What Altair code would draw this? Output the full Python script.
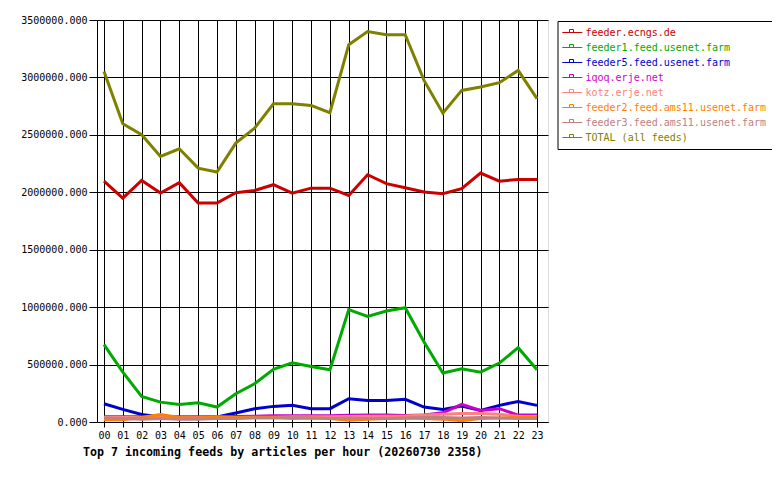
import altair as alt
import pandas as pd

hours = ["00","01","02","03","04","05","06","07","08","09","10","11",
         "12","13","14","15","16","17","18","19","20","21","22","23"]

series_names = [
    "feeder.ecngs.de",
    "feeder1.feed.usenet.farm",
    "feeder5.feed.usenet.farm",
    "iqoq.erje.net",
    "kotz.erje.net",
    "feeder2.feed.ams11.usenet.farm",
    "feeder3.feed.ams11.usenet.farm",
    "TOTAL (all feeds)",
]
series_colors = ["#cc0000", "#00aa00", "#0000cc", "#cc00cc",
                 "#ff8080", "#ff8000", "#c08080", "#808000"]

ecngs = [2097000, 1949000, 2103000, 1993000, 2083000, 1906000, 1906000, 1996000,
         2016000, 2066000, 1993000, 2036000, 2036000, 1973000, 2153000, 2075000,
         2040000, 2002000, 1988000, 2031000, 2167000, 2097000, 2112000, 2112000]
feeder1 = [673000, 434000, 223000, 173000, 153000, 168000, 130000, 246000,
           333000, 458000, 516000, 484000, 455000, 978000, 919000, 966000,
           995000, 696000, 426000, 464000, 434000, 513000, 647000, 455000]
feeder5 = [159000, 110000, 66000, 43000, 34000, 34000, 43000, 78000,
           116000, 136000, 145000, 116000, 116000, 203000, 188000, 188000,
           197000, 130000, 110000, 139000, 101000, 145000, 179000, 145000]
iqoq = [45000, 45000, 45000, 45000, 45000, 45000, 45000, 47000,
        50000, 55000, 55000, 55000, 55000, 58000, 60000, 60000,
        57000, 60000, 80000, 153000, 100000, 116000, 60000, 60000]
kotz = [40000, 40000, 40000, 40000, 38000, 38000, 40000, 40000,
        42000, 42000, 45000, 45000, 45000, 48000, 50000, 50000,
        52000, 60000, 68000, 75000, 75000, 68000, 50000, 48000]
feeder2 = [20000, 20000, 40000, 65000, 40000, 35000, 45000, 40000,
           40000, 40000, 30000, 35000, 30000, 15000, 25000, 30000,
           35000, 30000, 25000, 12000, 30000, 35000, 40000, 40000]
feeder3 = [35000, 30000, 25000, 30000, 25000, 25000, 30000, 30000,
           35000, 35000, 40000, 35000, 30000, 35000, 30000, 30000,
           35000, 40000, 40000, 35000, 40000, 35000, 30000, 30000]
total = [3052000, 2597000, 2501000, 2312000, 2379000, 2210000, 2176000, 2428000,
         2559000, 2771000, 2771000, 2756000, 2693000, 3285000, 3400000, 3372000,
         3372000, 2974000, 2689000, 2887000, 2916000, 2954000, 3061000, 2815000]

all_values = [ecngs, feeder1, feeder5, iqoq, kotz, feeder2, feeder3, total]

rows = []
for s_idx, (name, vals) in enumerate(zip(series_names, all_values)):
    for h_idx, v in enumerate(vals):
        rows.append({"hour": h_idx, "series": name, "articles": v, "ord": s_idx})
df = pd.DataFrame(rows)

mono = "DejaVu Sans Mono"
label_expr = "[" + ",".join("'%s'" % h for h in hours) + "][datum.value]"

chart = alt.Chart(df).mark_line(strokeWidth=3, strokeJoin="miter").encode(
    x=alt.X("hour:Q",
            scale=alt.Scale(domain=[-0.372, 23.584], nice=False, zero=False),
            axis=alt.Axis(values=list(range(len(hours))), labelExpr=label_expr,
                          title=None, grid=True, gridColor="black", gridOpacity=1,
                          tickColor="black", tickSize=5, domainColor="black",
                          labelFont=mono, labelFontSize=10, labelColor="black",
                          labelPadding=3, labelFlush=False)),
    y=alt.Y("articles:Q",
            scale=alt.Scale(domain=[0, 3500000], nice=False),
            axis=alt.Axis(values=[0, 500000, 1000000, 1500000, 2000000,
                                  2500000, 3000000, 3500000],
                          format=".3f", title=None, grid=True, gridColor="black",
                          gridOpacity=1, tickColor="black", tickSize=8,
                          domainColor="black", labelFont=mono, labelFontSize=10,
                          labelColor="black", labelPadding=2)),
    color=alt.Color("series:N",
                    scale=alt.Scale(domain=series_names, range=series_colors),
                    legend=alt.Legend(
                        orient="none", legendX=460.5, legendY=1, title=None,
                        strokeColor="black", fillColor="white", padding=6,
                        cornerRadius=0,
                        labelFont=mono, labelFontSize=10,
                        labelColor=alt.ExprRef(expr="scale('color', datum.value)"),
                        symbolType="M-1.34,0H2.66M0.1,0V-0.6H0.9V0",
                        symbolSize=100, symbolStrokeWidth=1,
                        labelOffset=11, rowPadding=4, labelLimit=400)),
    order=alt.Order("ord:Q"),
).properties(
    width=451,
    height=402,
    autosize=alt.AutoSizeParams(type="none"),
    padding={"left": 89, "top": 12, "right": 224, "bottom": 48},
    title=alt.TitleParams(
        text="Top 7 incoming feeds by articles per hour (20260730 2358)",
        orient="bottom", anchor="start", frame="group", font=mono, fontSize=11.65,
        fontWeight="bold", color="black", dx=-14, offset=7),
).configure_view(
    fill="#e0e0e0", stroke="black", strokeWidth=1
).configure(background="white")

chart.save("out.html", embed_options={"renderer": "svg", "actions": False})
